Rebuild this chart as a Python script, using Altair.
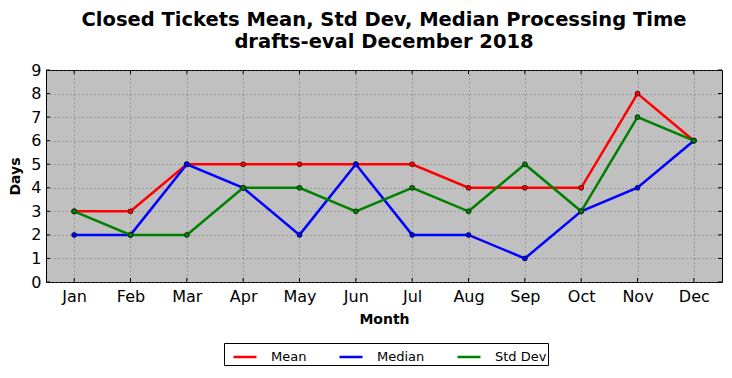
import altair as alt
import pandas as pd

months = ["Jan", "Feb", "Mar", "Apr", "May", "Jun", "Jul", "Aug", "Sep", "Oct", "Nov", "Dec"]
mean_vals = [3, 3, 5, 5, 5, 5, 5, 4, 4, 4, 8, 6]
median_vals = [2, 2, 5, 4, 2, 5, 2, 2, 1, 3, 4, 6]
std_vals = [3, 2, 2, 4, 4, 3, 4, 3, 5, 3, 7, 6]
series_names = ["Mean", "Median", "Std Dev"]
series_colors = ["#ff0000", "#0000ff", "#008000"]
y_ticks = list(range(0, 10))

rows = []
for name, vals in zip(series_names, [mean_vals, median_vals, std_vals]):
    for m, v in zip(months, vals):
        rows.append({"Month": m, "Days": v, "Series": name})
df = pd.DataFrame(rows)
df_months = pd.DataFrame({"Month": months})
df_yt = pd.DataFrame({"Days": y_ticks})

W, H = 676, 212
FONT = "DejaVu Sans"

x_scale = alt.Scale(domain=months, type="point", padding=0.5)
x_axis = alt.Axis(title="Month", labelAngle=0, labelFontSize=16, labelPadding=6,
                  labelAlign="center", titleFontSize=14, titleFontWeight="bold", titlePadding=8,
                  ticks=False, domain=False, grid=True)
x_enc = alt.X("Month:N", sort=months, scale=x_scale, axis=x_axis)
y_scale = alt.Scale(domain=[0, 9], nice=False, zero=True)
y_axis = alt.Axis(title="Days", values=y_ticks, labelFontSize=16, labelPadding=5,
                  labelOverlap=False, labelFlush=False,
                  titleFontSize=14, titleFontWeight="bold", titlePadding=8,
                  ticks=False, domain=False, grid=True)
y_enc = alt.Y("Days:Q", scale=y_scale, axis=y_axis)
color_enc = alt.Color("Series:N",
                      scale=alt.Scale(domain=series_names, range=series_colors),
                      legend=alt.Legend(title=None, orient="none", legendX=178, legendY=273,
                                        direction="horizontal", symbolType="stroke",
                                        symbolStrokeWidth=2.5, symbolSize=529, symbolOffset=7,
                                        labelFontSize=13, labelFont=FONT, labelColor="black",
                                        columnPadding=24, labelOffset=13, padding=1,
                                        strokeColor="black", fillColor="white"))

layers = []
for i, name in enumerate(series_names):
    base = alt.Chart(df).transform_filter(alt.datum.Series == name)
    layers.append(base.mark_line(strokeWidth=2.5).encode(x=x_enc, y=y_enc, color=color_enc))
    layers.append(base.mark_point(filled=True, size=25, stroke="black", strokeWidth=0.6, opacity=1)
                  .encode(x=x_enc, y=y_enc,
                          fill=alt.Fill("Series:N", scale=alt.Scale(domain=series_names, range=series_colors), legend=None)))

tick_len = 4
xt_bottom = alt.Chart(df_months).mark_rule(color="black", strokeWidth=1).encode(
    x=x_enc, y=alt.value(H), y2=alt.value(H - tick_len))
xt_top = alt.Chart(df_months).mark_rule(color="black", strokeWidth=1).encode(
    x=x_enc, y=alt.value(0), y2=alt.value(tick_len))
yt_left = alt.Chart(df_yt).mark_rule(color="black", strokeWidth=1).encode(
    y=y_enc, x=alt.value(0), x2=alt.value(tick_len))
yt_right = alt.Chart(df_yt).mark_rule(color="black", strokeWidth=1).encode(
    y=y_enc, x=alt.value(W), x2=alt.value(W - tick_len))

chart = alt.layer(*layers, xt_bottom, xt_top, yt_left, yt_right).properties(
    width=W, height=H,
    title=alt.TitleParams(text=["Closed Tickets Mean, Std Dev, Median Processing Time",
                                "drafts-eval December 2018"],
                          fontSize=19.5, fontWeight="bold", font=FONT, anchor="middle",
                          offset=10, lineHeight=22, color="black"),
    autosize=alt.AutoSizeParams(type="none"),
    padding={"left": 38, "top": 62, "right": 2, "bottom": 88},
    background="white",
).configure_view(
    fill="#c0c0c0", stroke="black", strokeWidth=1
).configure_axis(
    labelFont=FONT, titleFont=FONT, labelColor="black", titleColor="black",
    gridColor="#606060", gridDash=[1, 3], gridWidth=1, gridOpacity=0.8
)

chart.save("out.html", embed_options={"renderer": "svg", "actions": False})
